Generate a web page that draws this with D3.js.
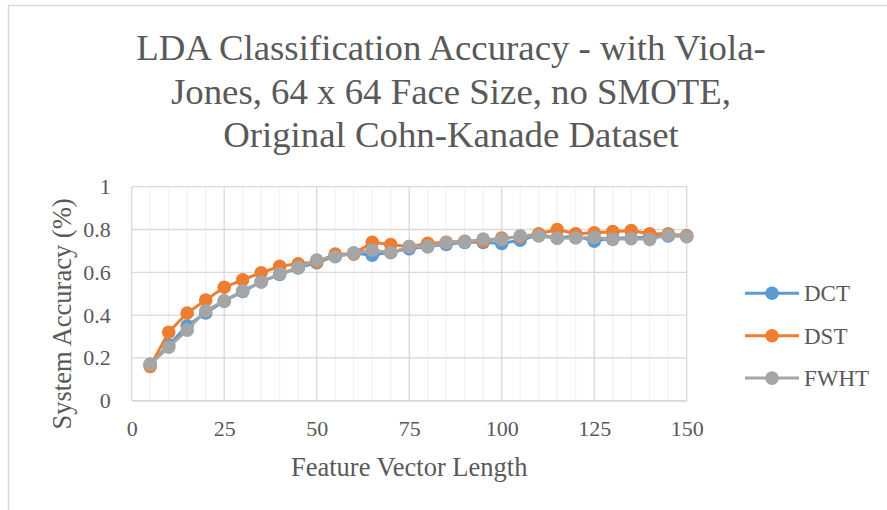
<!DOCTYPE html>
<html><head><meta charset="utf-8">
<script src="https://cdn.jsdelivr.net/npm/d3@7"></script>
<style>body{margin:0;background:#fff}svg{display:block}</style>
</head><body><svg id="c" width="887" height="510"></svg>
<script>
const featureLengths = [5,10,15,20,25,30,35,40,45,50,55,60,65,70,75,80,85,90,95,100,105,110,115,120,125,130,135,140,145,150];
const dctValues  = [0.17,0.26,0.35,0.41,0.465,0.51,0.555,0.59,0.62,0.645,0.675,0.69,0.68,0.695,0.71,0.72,0.73,0.74,0.74,0.735,0.75,0.775,0.76,0.77,0.745,0.76,0.76,0.765,0.77,0.77];
const dstValues  = [0.16,0.32,0.41,0.47,0.53,0.565,0.598,0.628,0.64,0.648,0.685,0.685,0.74,0.73,0.72,0.735,0.74,0.745,0.745,0.76,0.765,0.78,0.80,0.78,0.785,0.79,0.795,0.78,0.78,0.77];
const fwhtValues = [0.17,0.25,0.33,0.42,0.467,0.514,0.556,0.592,0.623,0.657,0.673,0.689,0.704,0.692,0.72,0.72,0.738,0.743,0.755,0.754,0.77,0.77,0.759,0.76,0.763,0.754,0.757,0.754,0.774,0.766];
const seriesNames = ["DCT","DST","FWHT"];
const seriesColors = ["#5B9BD5","#ED7D31","#A5A5A5"];
const xTicks = [0,25,50,75,100,125,150];
const yTicks = [0,0.2,0.4,0.6,0.8,1];
const titleLines = ["LDA Classification Accuracy - with Viola-","Jones, 64 x 64 Face Size, no SMOTE,","Original Cohn-Kanade Dataset"];

const FONT = "'Liberation Serif', 'Times New Roman', Times, serif";
const svg = d3.select("#c");
svg.append("path").attr("d","M8.5,510 L8.5,5.5 L887,5.5").attr("fill","none").attr("stroke","#d9d9d9").attr("stroke-width",1.5);

const L=131.7, R=686.7, T=186.7, B=400.7;
const x = d3.scaleLinear().domain([0,150]).range([L,R]);
const y = d3.scaleLinear().domain([0,1]).range([B,T]);

const g = svg.append("g");
g.selectAll(".mv").data(d3.range(0,151,5).filter(v=>v%25!==0)).enter().append("line")
 .attr("x1",d=>x(d)).attr("x2",d=>x(d)).attr("y1",T).attr("y2",B).attr("stroke","#f2f2f2").attr("stroke-width",1.2);
g.selectAll(".Mv").data(xTicks).enter().append("line")
 .attr("x1",d=>x(d)).attr("x2",d=>x(d)).attr("y1",T).attr("y2",B).attr("stroke","#d9d9d9").attr("stroke-width",1.3);
g.selectAll(".Mh").data(yTicks).enter().append("line")
 .attr("x1",L).attr("x2",R).attr("y1",d=>y(d)).attr("y2",d=>y(d)).attr("stroke","#d9d9d9").attr("stroke-width",1.3);

const xAxis = d3.axisBottom(x).tickValues(xTicks).tickSize(0).tickPadding(20);
svg.append("g").attr("transform",`translate(0,${B})`).call(xAxis)
 .attr("font-family",null).attr("font-size",null)
 .call(s=>s.select(".domain").attr("stroke","#d9d9d9").attr("stroke-width",1.3))
 .selectAll("text").style("font-family",FONT).style("font-size","22px").style("fill","#595959");
const yAxis = d3.axisLeft(y).tickValues(yTicks).tickSize(0).tickPadding(21).tickFormat(d=>d===0?"0":d===1?"1":d3.format(".1f")(d));
svg.append("g").attr("transform",`translate(${L},0)`).call(yAxis)
 .attr("font-family",null).attr("font-size",null)
 .call(s=>s.select(".domain").remove())
 .selectAll("text").style("font-family",FONT).style("font-size","22px").style("fill","#595959");

const allSeries = [dctValues,dstValues,fwhtValues];
const line = d3.line().x((d,i)=>x(featureLengths[i])).y(d=>y(d));
allSeries.forEach((vals,si)=>{
  const sg = svg.append("g");
  sg.append("path").datum(vals).attr("d",line).attr("fill","none").attr("stroke",seriesColors[si]).attr("stroke-width",3).attr("stroke-linejoin","round");
  sg.selectAll("circle").data(vals).enter().append("circle")
    .attr("cx",(d,i)=>x(featureLengths[i])).attr("cy",d=>y(d)).attr("r",6.8).attr("fill",seriesColors[si]);
});

function txt(sel){return sel.style("font-family",FONT).style("fill","#595959");}
txt(svg.append("g").selectAll("text").data(titleLines).enter().append("text")
 .attr("x",451).attr("y",(d,i)=>60+i*43.5).attr("text-anchor","middle").style("font-size","36.8px").text(d=>d));

txt(svg.append("text").attr("x",(L+R)/2).attr("y",476).attr("text-anchor","middle").style("font-size","26.5px").text("Feature Vector Length"));
txt(svg.append("text").attr("transform",`translate(71,314) rotate(-90)`).attr("text-anchor","middle").style("font-size","26.5px").text("System Accuracy (%)"));

const lg = svg.append("g");
seriesNames.forEach((n,i)=>{
  const ly = 293.3 + i*42.4;
  lg.append("line").attr("x1",745).attr("x2",799).attr("y1",ly).attr("y2",ly).attr("stroke",seriesColors[i]).attr("stroke-width",3);
  lg.append("circle").attr("cx",772).attr("cy",ly).attr("r",6.8).attr("fill",seriesColors[i]);
  txt(lg.append("text").attr("x",804).attr("y",ly+8).style("font-size","23px").text(n));
});
</script></body></html>
